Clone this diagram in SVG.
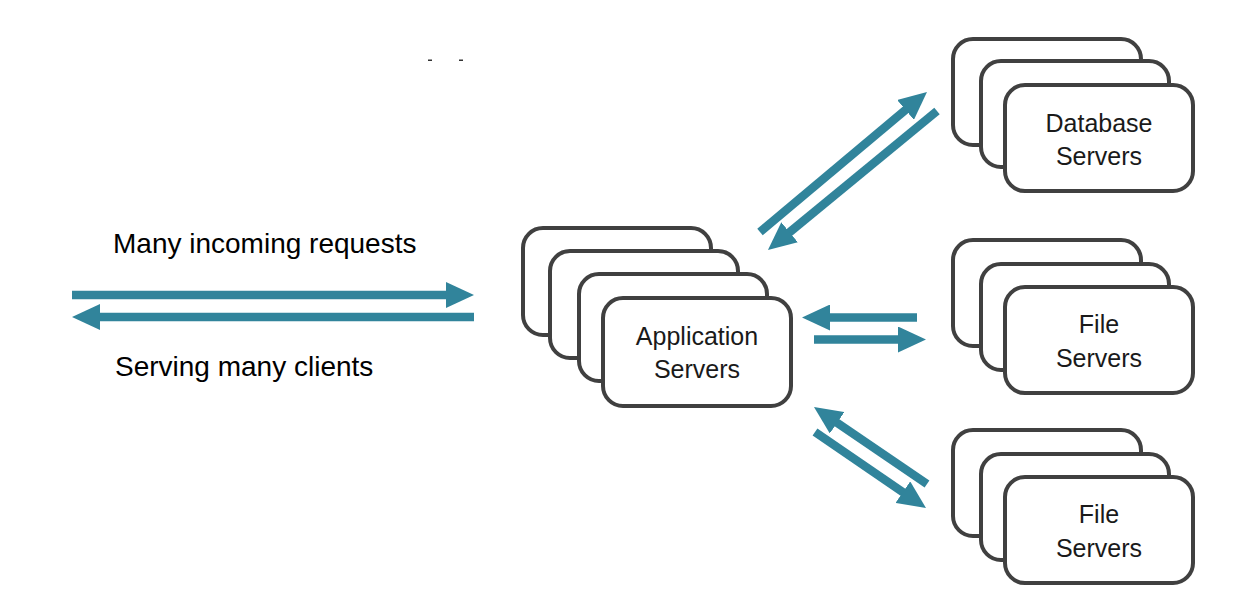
<svg xmlns="http://www.w3.org/2000/svg" width="1239" height="613" viewBox="0 0 1239 613">
  <defs>
    <style>
      .card { fill: #ffffff; stroke: #404040; stroke-width: 4; }
      .lbl { font-family: "Liberation Sans", Arial, sans-serif; font-size: 25px; fill: #1a1a1a; text-anchor: middle; }
      .cap { font-family: "Liberation Sans", Arial, sans-serif; font-size: 28px; fill: #000000; }
      .arr { stroke: #31849B; stroke-width: 8.5; fill: none; marker-end: url(#head); }
    </style>
    <marker id="head" markerUnits="userSpaceOnUse" markerWidth="28" markerHeight="26" viewBox="0 0 28 26" refX="1" refY="13" orient="auto">
      <path d="M0,0 L28,13 L0,26 z" fill="#31849B"/>
    </marker>
  </defs>
  <rect width="1239" height="613" fill="#ffffff"/>

  <rect x="428" y="59.5" width="4" height="1.5" fill="#333333"/>
  <rect x="459" y="59.5" width="4" height="1.5" fill="#333333"/>

  <text class="cap" x="113" y="253">Many incoming requests</text>
  <text class="cap" x="115" y="376">Serving many clients</text>

  <g id="connectors">
    <line class="arr" x1="72" y1="295" x2="447" y2="295"/>
    <line class="arr" x1="474" y1="317" x2="99" y2="317"/>
    <line class="arr" x1="760" y1="232" x2="906.3" y2="109.3"/>
    <line class="arr" x1="937" y1="111" x2="788.8" y2="232.9"/>
    <line class="arr" x1="917" y1="317.5" x2="829" y2="317.5"/>
    <line class="arr" x1="814" y1="339.5" x2="899" y2="339.5"/>
    <line class="arr" x1="927" y1="484" x2="836.3" y2="422.2"/>
    <line class="arr" x1="815" y1="432" x2="903.7" y2="492.7"/>
  </g>

  <g id="app-servers">
    <rect class="card" x="523" y="228" width="188" height="107" rx="20"/>
    <rect class="card" x="550" y="251" width="188" height="107" rx="20"/>
    <rect class="card" x="579" y="274" width="188" height="107" rx="20"/>
    <rect class="card" x="603" y="298" width="188" height="108" rx="20"/>
    <text class="lbl" x="697" y="345">Application</text>
    <text class="lbl" x="697" y="378">Servers</text>
  </g>

  <g id="database-servers">
    <rect class="card" x="953" y="39" width="188" height="106" rx="20"/>
    <rect class="card" x="981" y="61" width="188" height="106" rx="20"/>
    <rect class="card" x="1005" y="85" width="188" height="106" rx="20"/>
    <text class="lbl" x="1099" y="132">Database</text>
    <text class="lbl" x="1099" y="165">Servers</text>
  </g>

  <g id="file-servers-1">
    <rect class="card" x="953" y="240" width="188" height="106" rx="20"/>
    <rect class="card" x="981" y="264" width="188" height="106" rx="20"/>
    <rect class="card" x="1005" y="287" width="188" height="106" rx="20"/>
    <text class="lbl" x="1099" y="333">File</text>
    <text class="lbl" x="1099" y="367">Servers</text>
  </g>

  <g id="file-servers-2">
    <rect class="card" x="953" y="430" width="188" height="106" rx="20"/>
    <rect class="card" x="981" y="454" width="188" height="106" rx="20"/>
    <rect class="card" x="1005" y="477" width="188" height="106" rx="20"/>
    <text class="lbl" x="1099" y="523">File</text>
    <text class="lbl" x="1099" y="557">Servers</text>
  </g>
</svg>
